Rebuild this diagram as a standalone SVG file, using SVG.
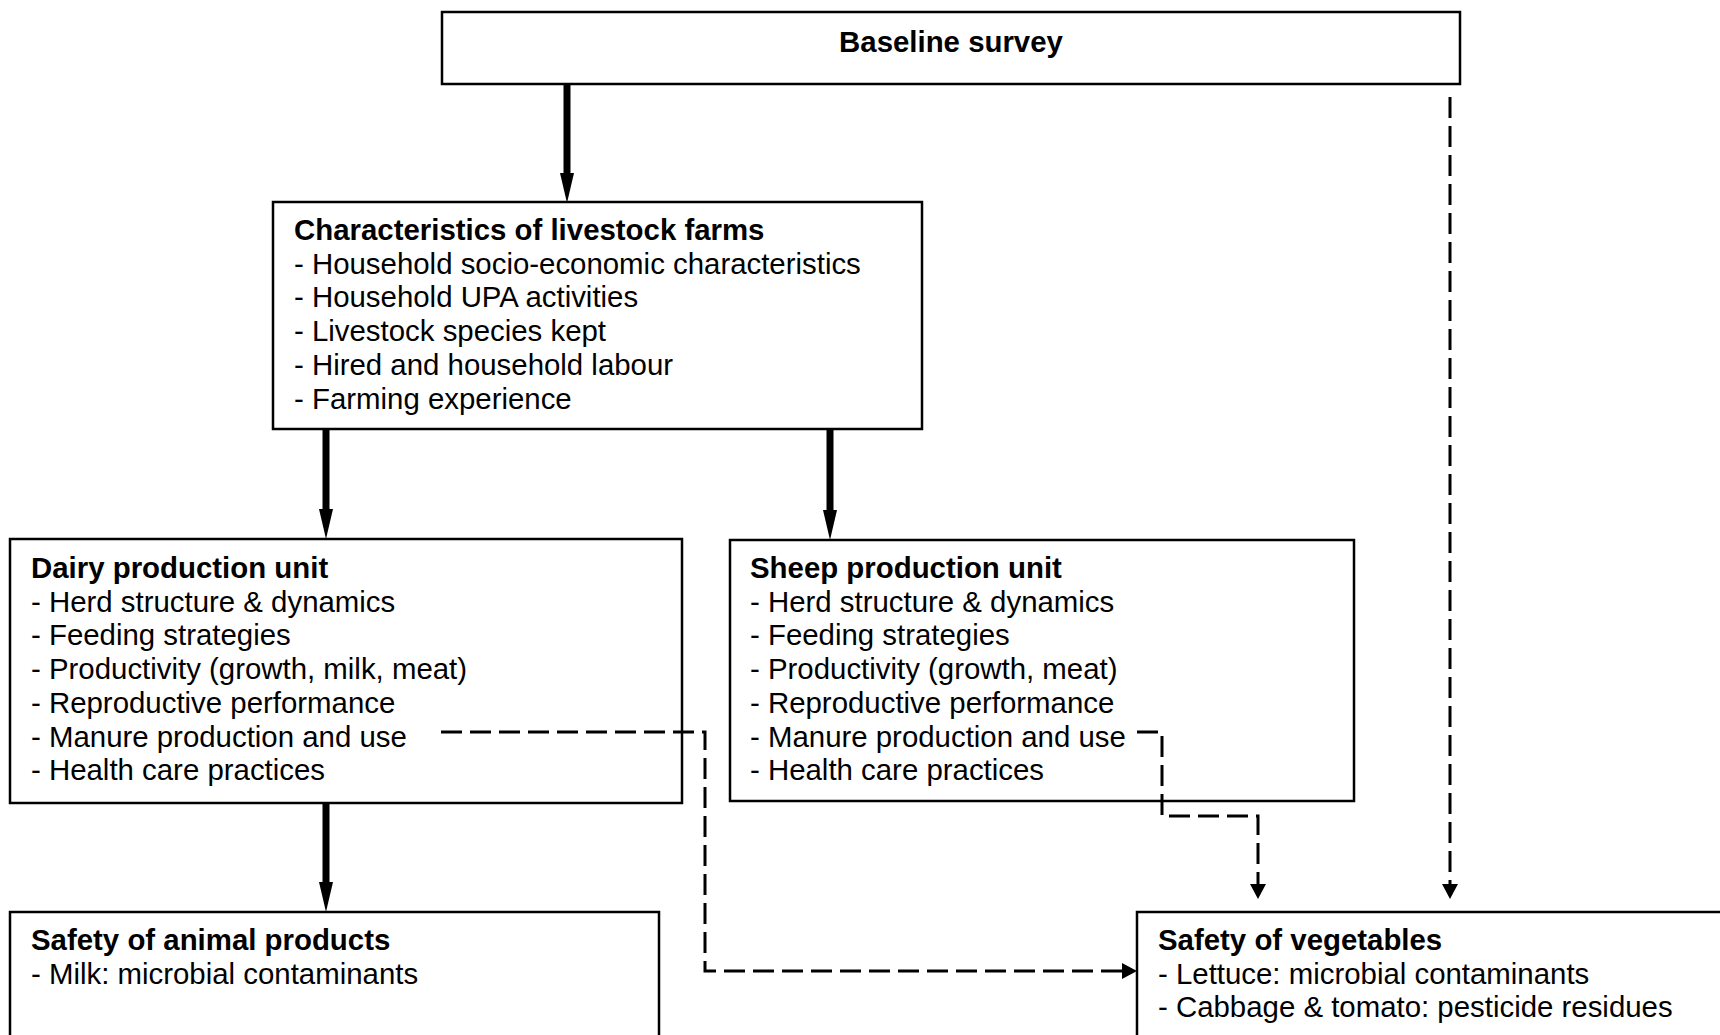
<svg xmlns="http://www.w3.org/2000/svg" width="1720" height="1035" viewBox="0 0 1720 1035">
<style>
.box{fill:#fff;stroke:#000;stroke-width:2.5}
text{font-family:"Liberation Sans",Arial,Helvetica,sans-serif;font-size:29.4px;fill:#000}
.b{font-weight:bold}
.solid{fill:none;stroke:#000;stroke-width:7}
.dash{fill:none;stroke:#000;stroke-width:3;stroke-dasharray:21 8}
</style>
<defs>
<marker id="hs" markerUnits="userSpaceOnUse" markerWidth="40" markerHeight="40" refX="0" refY="0" viewBox="0 -20 40 40" orient="auto" overflow="visible"><path d="M0,-7 L30,0 L0,7 z" fill="#000"/></marker>
<marker id="hd" markerUnits="userSpaceOnUse" markerWidth="30" markerHeight="30" refX="0" refY="0" viewBox="0 -15 30 30" orient="auto" overflow="visible"><path d="M0,-8 L15,0 L0,8 z" fill="#000"/></marker>
</defs>
<rect width="1720" height="1035" fill="#fff"/>
<g id="baseline">
<rect class="box" x="442" y="12" width="1018" height="72"/>
<text class="b" x="951" y="52" text-anchor="middle">Baseline survey</text>
</g>
<g id="characteristics">
<rect class="box" x="273" y="202" width="649" height="227"/>
<text x="294" y="240"><tspan class="b">Characteristics of livestock farms</tspan><tspan x="294" dy="33.7">- Household socio-economic characteristics</tspan><tspan x="294" dy="33.7">- Household UPA activities</tspan><tspan x="294" dy="33.7">- Livestock species kept</tspan><tspan x="294" dy="33.7">- Hired and household labour</tspan><tspan x="294" dy="33.7">- Farming experience</tspan></text>
</g>
<g id="dairy">
<rect class="box" x="10" y="539" width="672" height="264"/>
<text x="31" y="578"><tspan class="b">Dairy production unit</tspan><tspan x="31" dy="33.7">- Herd structure &amp; dynamics</tspan><tspan x="31" dy="33.7">- Feeding strategies</tspan><tspan x="31" dy="33.7">- Productivity (growth, milk, meat)</tspan><tspan x="31" dy="33.7">- Reproductive performance</tspan><tspan x="31" dy="33.7">- Manure production and use</tspan><tspan x="31" dy="33.7">- Health care practices</tspan></text>
</g>
<g id="sheep">
<rect class="box" x="730" y="540" width="624" height="261"/>
<text x="750" y="578"><tspan class="b">Sheep production unit</tspan><tspan x="750" dy="33.7">- Herd structure &amp; dynamics</tspan><tspan x="750" dy="33.7">- Feeding strategies</tspan><tspan x="750" dy="33.7">- Productivity (growth, meat)</tspan><tspan x="750" dy="33.7">- Reproductive performance</tspan><tspan x="750" dy="33.7">- Manure production and use</tspan><tspan x="750" dy="33.7">- Health care practices</tspan></text>
</g>
<g id="animal-safety">
<rect class="box" x="10" y="912" width="649" height="140"/>
<text x="31" y="950"><tspan class="b">Safety of animal products</tspan><tspan x="31" dy="33.7">- Milk: microbial contaminants</tspan></text>
</g>
<g id="vegetable-safety">
<rect class="box" x="1137" y="912" width="600" height="140"/>
<text x="1158" y="950"><tspan class="b">Safety of vegetables</tspan><tspan x="1158" dy="33.7">- Lettuce: microbial contaminants</tspan><tspan x="1158" dy="33.7">- Cabbage &amp; tomato: pesticide residues</tspan></text>
</g>
<g id="connectors">
<path class="solid" d="M567,85 V173" marker-end="url(#hs)"/>
<path class="solid" d="M326,430 V509" marker-end="url(#hs)"/>
<path class="solid" d="M830,430 V510" marker-end="url(#hs)"/>
<path class="solid" d="M326,804 V882" marker-end="url(#hs)"/>
<path class="dash" d="M1450,97 V884" marker-end="url(#hd)"/>
<path class="dash" d="M441,732 H705 V971 H1122" marker-end="url(#hd)"/>
<path class="dash" d="M1137,732 H1162 V816 H1258 V884" marker-end="url(#hd)"/>
</g>
</svg>
